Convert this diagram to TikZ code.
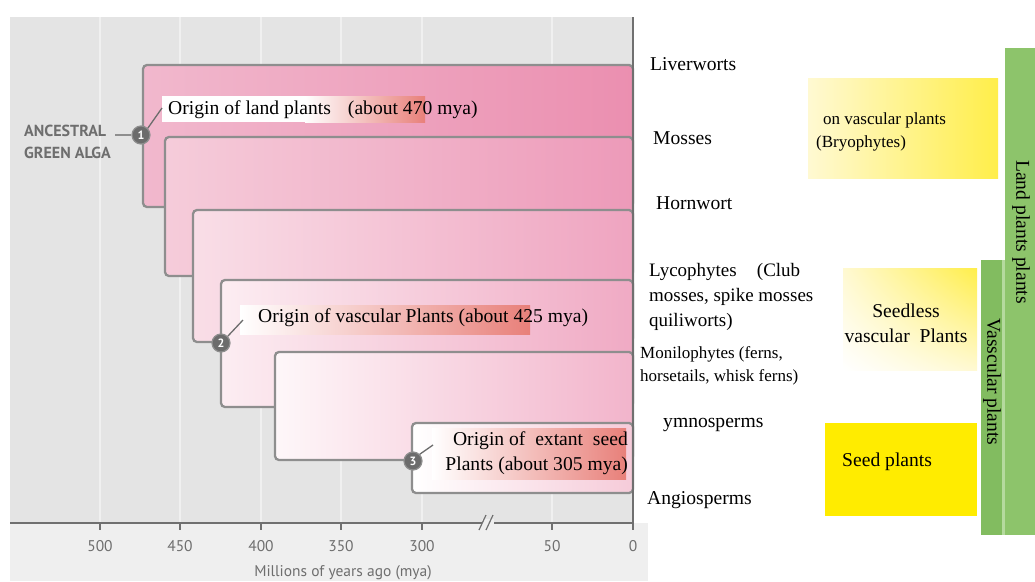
\documentclass[tikz,border=0pt]{standalone}
\usepackage{fontspec}
\setmainfont{Liberation Serif}
\newfontfamily\axisfont{PT Sans}
\usetikzlibrary{shadings}
\definecolor{bggray}{HTML}{E4E4E4}
\definecolor{gridc}{HTML}{F0F0F0}
\definecolor{lowgray}{HTML}{EFEFEF}
\definecolor{linegray}{HTML}{8E8E8E}
\definecolor{axisgray}{HTML}{707070}
\definecolor{nodegray}{HTML}{6C6C6C}
\definecolor{labgray}{HTML}{6E6E6E}
\definecolor{salmon}{HTML}{E8807A}
\definecolor{pinkA}{HTML}{F1B8CD}
\definecolor{pinkB}{HTML}{EB8FB0}
\definecolor{pinkC}{HTML}{F5CCDA}
\definecolor{pinkD}{HTML}{ED9AB9}
\definecolor{pinkE}{HTML}{F9DEE7}
\definecolor{pinkF}{HTML}{EFA4C0}
\definecolor{pinkG}{HTML}{FCEDF2}
\definecolor{pinkH}{HTML}{F0AAC4}
\definecolor{pinkI}{HTML}{FEF7F9}
\definecolor{pinkJ}{HTML}{F2B4CB}
\definecolor{pinkK}{HTML}{F6CBD9}
\definecolor{paleyel}{HTML}{FFF9D2}
\definecolor{yel}{HTML}{FFEE4A}
\definecolor{seedyel}{HTML}{FFEC00}
\definecolor{greenA}{HTML}{8DC46B}
\definecolor{greenB}{HTML}{82BC60}
\definecolor{greenL}{HTML}{B5DA9E}
\begin{document}
\begin{tikzpicture}[x=1pt,y=-1pt,
  branch/.style={draw=linegray, line width=2.3pt, rounded corners=4pt},
  grid/.style={gridc, line width=1.2pt},
  tick/.style={axisgray, line width=1.2pt},
  ticklab/.style={font=\axisfont\fontsize{15.5}{18}\selectfont, text=labgray, inner sep=0},
  nodec/.style={circle, fill=nodegray, draw=linegray, line width=1.2pt, minimum size=18pt, inner sep=0, text=white, font=\axisfont\bfseries\fontsize{12}{12}\selectfont},
  leader/.style={nodegray, line width=1.3pt},
  taxon/.style={anchor=west, inner sep=0, font=\fontsize{19.6}{25}\selectfont, align=left},
  callout/.style={inner sep=0, font=\fontsize{19.6}{25}\selectfont},
  boxtext/.style={inner sep=0, font=\fontsize{19.6}{25}\selectfont, align=left},
  bartext/.style={inner sep=0, rotate=-90, font=\fontsize{19.6}{23}\selectfont}
]
\useasboundingbox (0,0) rectangle (1035,581);
\fill[white] (0,0) rectangle (1035,581);
% background panels
\fill[bggray] (10,17) rectangle (633,523);
\fill[lowgray] (10,523) rectangle (648,581);
% grid lines
\foreach \gx in {100,180,261,341,422,552}{
  \draw[grid] (\gx,17) -- (\gx,523);
}
% clade boxes
\path[branch, left color=pinkA, right color=pinkB] (143,65) rectangle (633,207);
\path[branch, left color=pinkC, right color=pinkD] (165,137) rectangle (633,276);
\path[branch, left color=pinkE, right color=pinkF] (193,210) rectangle (633,342);
\path[branch, left color=pinkG, right color=pinkH] (221,280) rectangle (633,407);
\path[branch, left color=pinkI, right color=pinkJ] (275,352) rectangle (633,460);
\path[branch, left color=white, right color=pinkK] (412,423) rectangle (633,493);
% axes
\draw[axisgray, line width=2pt] (633,17) -- (633,524);
\draw[axisgray, line width=2pt] (10,523) -- (634,523);
\foreach \gx in {100,180,261,341,422,552,633}{
  \draw[tick] (\gx,523) -- (\gx,530);
}
\fill[lowgray] (482,519) rectangle (494,527);
\draw[axisgray, line width=1.2pt] (479,530) -- (486,515);
\draw[axisgray, line width=1.2pt] (486,530) -- (493,515);
\node[ticklab] (t500) at (100,546) {500};
\node[ticklab] (t450) at (180,546) {450};
\node[ticklab] (t400) at (261,546) {400};
\node[ticklab] (t350) at (341,546) {350};
\node[ticklab] (t300) at (422,546) {300};
\node[ticklab] (t50) at (552,546) {50};
\node[ticklab] (t0) at (633,546) {0};
\node[ticklab] (axlab) at (343,573) {Millions of years ago (mya)};
% callout backgrounds
\fill[white] (162,96) rectangle (305,122);
\shade[left color=white, right color=salmon] (305,96) rectangle (425,122);
\shade[left color=white, right color=salmon] (240,305) rectangle (530,334);
\shade[left color=white, right color=salmon] (432,428) rectangle (626,479);
% nodes
\node[nodec] (n1) at (141,135) {1};
\node[nodec] (n2) at (221,343) {2};
\node[nodec] (n3) at (413,461) {3};
\node[anchor=north west, inner sep=0, align=left, text=labgray,
      font=\axisfont\bfseries\fontsize{16}{22}\selectfont] (alga) at (24,125) {ANCESTRAL\\GREEN ALGA};
\draw[linegray, line width=2pt] (115,135) -- (n1.west);
\coordinate (l1) at (162,108);
\coordinate (l2) at (243,320);
\coordinate (l3) at (433,445);
\draw[leader] (n1.north east) -- (l1);
\draw[leader] (n2.north east) -- (l2);
\draw[leader] (n3.north east) -- (l3);
% callout texts
\node[callout, anchor=west] (c1) at (168,110) {Origin of land plants\hspace{17pt}(about 470 mya)};
\node[callout, anchor=west] (c2) at (258,318) {Origin of vascular Plants (about 425 mya)};
\node[callout, anchor=east, align=right] (c3) at (628,453) {Origin of\ \ extant\ \ seed\\Plants (about 305 mya)};
% taxa
\node[taxon] (liv) at (650,64) {Liverworts};
\node[taxon] (mos) at (653,138) {Mosses};
\node[taxon] (hor) at (656,203) {Hornwort};
\node[taxon, font=\fontsize{19}{25}\selectfont] (lyc) at (649,297) {\makebox[151pt][s]{Lycophytes (Club}\\mosses, spike mosses\\quiliworts)};
\node[taxon, font=\fontsize{17}{23}\selectfont] (mon) at (640,366) {Monilophytes (ferns,\\horsetails, whisk ferns)};
\node[taxon] (gym) at (663,425) {ymnosperms};
\node[taxon] (ang) at (647,500) {Angiosperms};
% yellow boxes
\shade[left color=paleyel, right color=yel] (808,78) rectangle (998,178);
\node[boxtext, anchor=west, font=\fontsize{17}{23}\selectfont] (bry) at (816,132) {\hspace{7pt}on vascular plants\\(Bryophytes)};
\shade[lower left=white, upper right=yel, upper left=paleyel, lower right=paleyel] (843,268) rectangle (977,370);
\node[boxtext, align=center] (sdl) at (906,323) {Seedless\\vascular\ \ Plants};
\fill[seedyel] (825,423) rectangle (977,516);
\node[boxtext, anchor=west] (seed) at (842,462) {Seed plants};
% green bars
\fill[greenA] (1005,48) rectangle (1035,535);
\fill[greenB] (981,260) rectangle (1002,535);
\fill[greenL] (1002,260) rectangle (1005,535);
\node[bartext] (land) at (1021,232) {Land plants plants};
\node[bartext] (vasc) at (992,382) {Vasscular plants};
\end{tikzpicture}
\end{document}
